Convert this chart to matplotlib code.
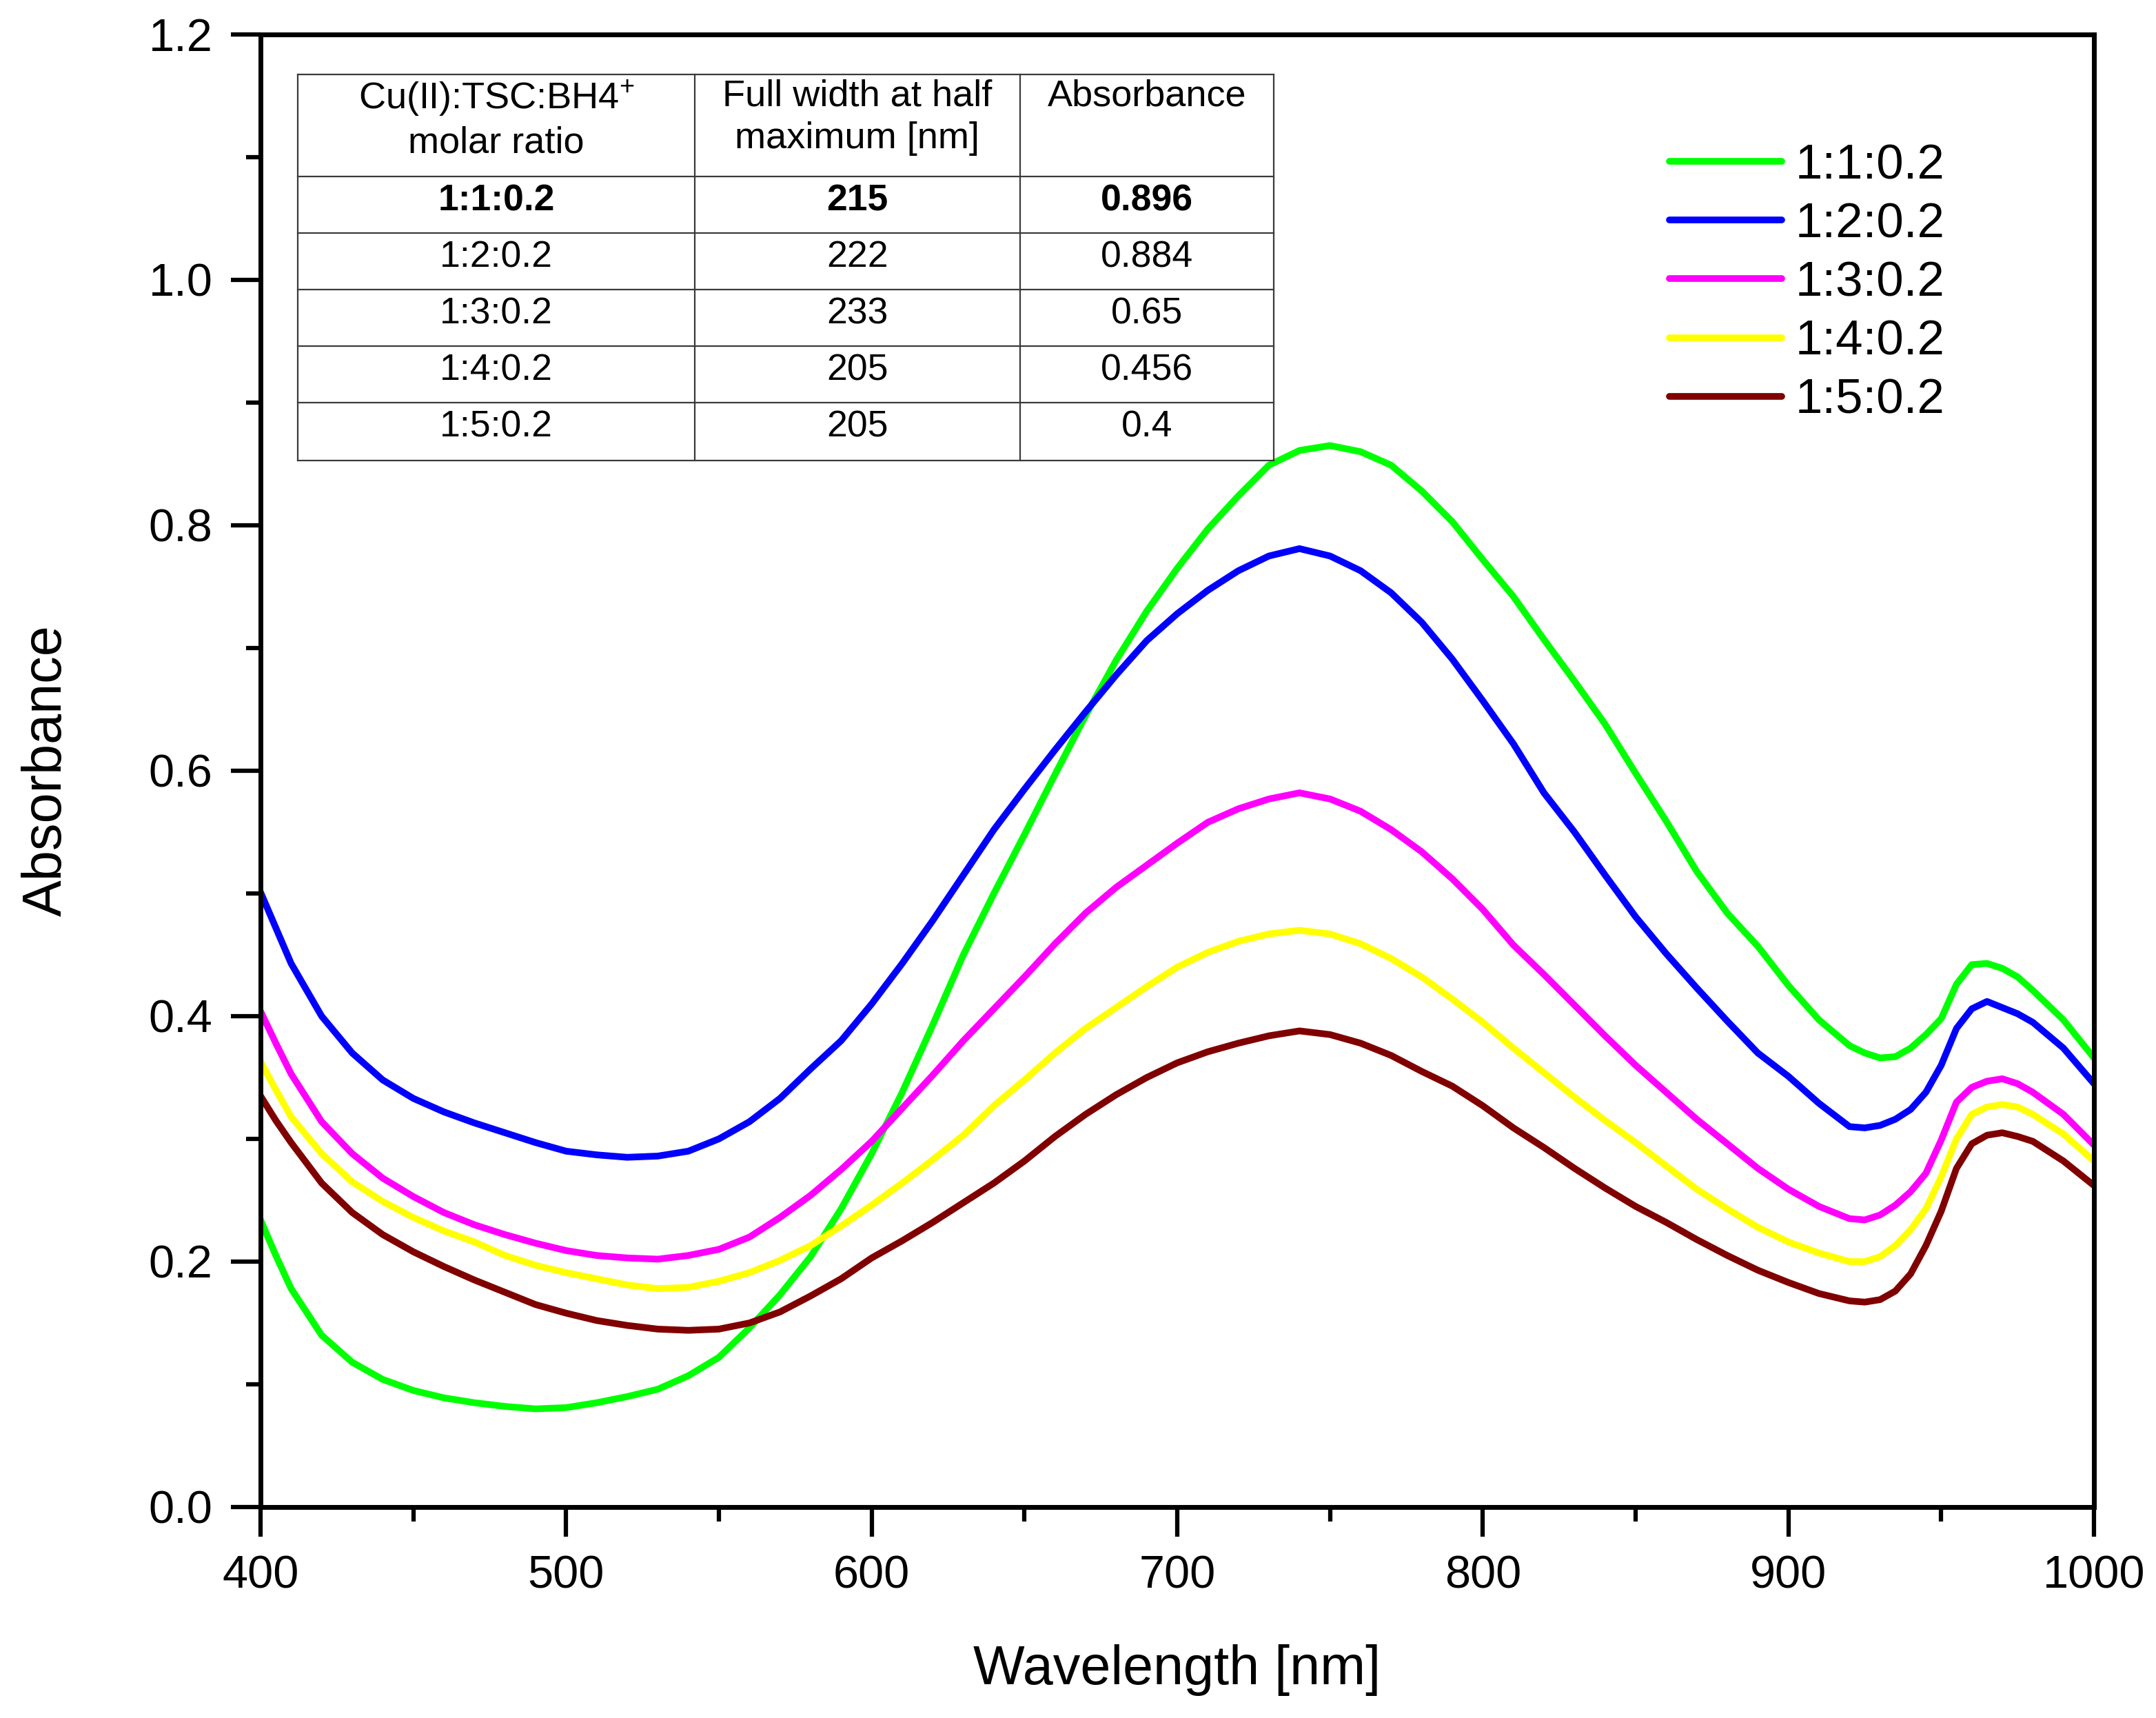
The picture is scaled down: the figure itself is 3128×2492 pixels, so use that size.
import matplotlib
matplotlib.use("Agg")
import matplotlib.pyplot as plt
from matplotlib.ticker import MultipleLocator

plt.rcParams['font.family'] = ['Liberation Sans', 'DejaVu Sans']
plt.rcParams['mathtext.fontset'] = 'custom'
plt.rcParams['mathtext.rm'] = 'Liberation Sans'
plt.rcParams['mathtext.it'] = 'Liberation Sans:italic'
plt.rcParams['mathtext.default'] = 'regular'

# ---------------- data ----------------
wavelength = [400, 405, 410, 420, 430, 440, 450, 460, 470, 480, 490, 500, 510, 520, 530,
              540, 550, 560, 570, 580, 590, 600, 610, 620, 630, 640, 650, 660, 670, 680,
              690, 700, 710, 720, 730, 740, 750, 760, 770, 780, 790, 800, 810, 820, 830,
              840, 850, 860, 870, 880, 890, 900, 910, 920, 925, 930, 935, 940, 945, 950,
              955, 960, 965, 970, 975, 980, 990, 1000]

abs_1_1 = [0.234, 0.205, 0.178, 0.140, 0.118, 0.104, 0.095, 0.089, 0.085, 0.082, 0.080, 0.081,
           0.085, 0.090, 0.096, 0.107, 0.122, 0.146, 0.173, 0.204, 0.243, 0.288, 0.338, 0.393,
           0.450, 0.500, 0.548, 0.597, 0.645, 0.690, 0.730, 0.765, 0.797, 0.824, 0.849, 0.861,
           0.865, 0.860, 0.849, 0.828, 0.803, 0.772, 0.742, 0.707, 0.673, 0.638, 0.598, 0.559,
           0.518, 0.484, 0.457, 0.425, 0.397, 0.376, 0.370, 0.366, 0.367, 0.374, 0.385, 0.398,
           0.426, 0.442, 0.443, 0.439, 0.432, 0.421, 0.397, 0.366]

abs_1_2 = [0.501, 0.472, 0.443, 0.400, 0.370, 0.348, 0.333, 0.322, 0.313, 0.305, 0.297, 0.290,
           0.287, 0.285, 0.286, 0.290, 0.300, 0.314, 0.333, 0.357, 0.380, 0.410, 0.443, 0.478,
           0.515, 0.552, 0.585, 0.617, 0.648, 0.678, 0.706, 0.728, 0.747, 0.763, 0.775, 0.781,
           0.775, 0.763, 0.745, 0.721, 0.691, 0.657, 0.622, 0.582, 0.550, 0.515, 0.481, 0.451,
           0.423, 0.396, 0.370, 0.351, 0.329, 0.310, 0.309, 0.311, 0.316, 0.324, 0.338, 0.360,
           0.390, 0.406, 0.412, 0.407, 0.402, 0.395, 0.374, 0.345]

abs_1_3 = [0.404, 0.378, 0.353, 0.314, 0.288, 0.268, 0.253, 0.240, 0.230, 0.222, 0.215, 0.209,
           0.205, 0.203, 0.202, 0.205, 0.210, 0.220, 0.236, 0.254, 0.275, 0.298, 0.325, 0.352,
           0.380, 0.406, 0.432, 0.459, 0.484, 0.505, 0.523, 0.541, 0.558, 0.569, 0.577, 0.582,
           0.577, 0.567, 0.552, 0.534, 0.512, 0.487, 0.458, 0.434, 0.409, 0.384, 0.360, 0.338,
           0.316, 0.296, 0.276, 0.259, 0.245, 0.235, 0.234, 0.238, 0.246, 0.257, 0.272, 0.299,
           0.330, 0.342, 0.347, 0.349, 0.345, 0.338, 0.320, 0.295]

abs_1_4 = [0.363, 0.340, 0.318, 0.288, 0.265, 0.249, 0.236, 0.225, 0.216, 0.205, 0.197, 0.191,
           0.186, 0.181, 0.178, 0.179, 0.184, 0.191, 0.201, 0.213, 0.229, 0.246, 0.264, 0.283,
           0.303, 0.327, 0.348, 0.370, 0.390, 0.407, 0.424, 0.440, 0.452, 0.461, 0.467, 0.470,
           0.467, 0.459, 0.447, 0.432, 0.414, 0.395, 0.374, 0.354, 0.334, 0.315, 0.297, 0.278,
           0.259, 0.243, 0.228, 0.216, 0.207, 0.200, 0.200, 0.204, 0.213, 0.226, 0.243, 0.269,
           0.300, 0.320, 0.326, 0.328, 0.326, 0.320, 0.304, 0.282]

abs_1_5 = [0.335, 0.315, 0.297, 0.264, 0.240, 0.222, 0.208, 0.196, 0.185, 0.175, 0.165, 0.158,
           0.152, 0.148, 0.145, 0.144, 0.145, 0.150, 0.159, 0.172, 0.186, 0.203, 0.217, 0.232,
           0.248, 0.264, 0.282, 0.302, 0.320, 0.336, 0.350, 0.362, 0.371, 0.378, 0.384, 0.388,
           0.385, 0.378, 0.368, 0.355, 0.343, 0.327, 0.309, 0.293, 0.276, 0.260, 0.245, 0.232,
           0.218, 0.205, 0.193, 0.183, 0.174, 0.168, 0.167, 0.169, 0.176, 0.190, 0.213, 0.241,
           0.276, 0.296, 0.303, 0.305, 0.302, 0.298, 0.282, 0.262]

series_labels = ["1:1:0.2", "1:2:0.2", "1:3:0.2", "1:4:0.2", "1:5:0.2"]
series_colors = ["#00ff00", "#0000ff", "#ff00ff", "#ffff00", "#800000"]

table_header = ["Cu(II):TSC:BH4$^{+}$\nmolar ratio", "Full width at half\nmaximum [nm]", "Absorbance\n "]
table_ratio = ["1:1:0.2", "1:2:0.2", "1:3:0.2", "1:4:0.2", "1:5:0.2"]
table_fwhm = ["215", "222", "233", "205", "205"]
table_abs = ["0.896", "0.884", "0.65", "0.456", "0.4"]

# ---------------- figure ----------------
fig = plt.figure(figsize=(31.28, 24.92), dpi=100)
ax = fig.add_axes([378 / 3128, 1 - 2186 / 2492, (3038 - 378) / 3128, (2186 - 50) / 2492])

all_series = [abs_1_1, abs_1_2, abs_1_3, abs_1_4, abs_1_5]
for vals, lab, col in zip(all_series, series_labels, series_colors):
    ax.plot(wavelength, vals, color=col, lw=7, label=lab,
            solid_capstyle='round', solid_joinstyle='round')

ax.set_xlim(400, 1000)
ax.set_ylim(0, 1.2)
ax.xaxis.set_major_locator(MultipleLocator(100))
ax.xaxis.set_minor_locator(MultipleLocator(50))
ax.yaxis.set_major_locator(MultipleLocator(0.2))
ax.yaxis.set_minor_locator(MultipleLocator(0.1))
ax.yaxis.set_major_formatter(matplotlib.ticker.FormatStrFormatter('%.1f'))

for sp in ax.spines.values():
    sp.set_linewidth(5)
ax.tick_params(which='major', direction='out', length=31, width=4.5, labelsize=48, pad=19)
ax.tick_params(which='minor', direction='out', length=15, width=4.5)
ax.tick_params(top=False, right=False, which='both')

ax.set_xlabel("Wavelength [nm]", fontsize=57)
ax.set_ylabel("Absorbance", fontsize=57)
ax.xaxis.set_label_coords(0.5, -0.093)
ax.yaxis.set_label_coords(-0.1025, 0.5)

leg = fig.legend(loc='upper left', bbox_to_anchor=(2422 / 3128, 1 - 208 / 2492),
                 frameon=False, fontsize=51, handlelength=2.3, handletextpad=0.28,
                 labelspacing=0.27, borderpad=0, borderaxespad=0)
for h in leg.get_lines():
    h.set_linewidth(7)

# ---------------- table (inset) ----------------
def ax_x(px):
    return (px - 378) / 2660

def ax_y(py):
    return (2186 - py) / 2136

col_edges = [432, 1008, 1480, 1848]
row_edges = [108, 256, 338, 420, 502, 584, 668]
tcolor = '#3a3a3a'
tlw = 1.6
for py in row_edges:
    ax.plot([ax_x(col_edges[0]), ax_x(col_edges[-1])], [ax_y(py), ax_y(py)],
            transform=ax.transAxes, color=tcolor, lw=tlw, clip_on=False, zorder=5)
for px in col_edges:
    ax.plot([ax_x(px), ax_x(px)], [ax_y(row_edges[0]), ax_y(row_edges[-1])],
            transform=ax.transAxes, color=tcolor, lw=tlw, clip_on=False, zorder=5)

col_centers = [(col_edges[i] + col_edges[i + 1]) / 2 for i in range(3)]
for i, htxt in enumerate(table_header):
    ax.text(ax_x(col_centers[i]), ax_y(114), htxt, transform=ax.transAxes,
            ha='center', va='top', fontsize=39, linespacing=1.3, zorder=6)

table_cols = [table_ratio, table_fwhm, table_abs]
for r in range(5):
    yc = (row_edges[r + 1] + row_edges[r + 2]) / 2 - 6
    for c in range(3):
        ax.text(ax_x(col_centers[c]), ax_y(yc), table_cols[c][r], transform=ax.transAxes,
                ha='center', va='center', fontsize=38.5,
                fontweight='bold' if r == 0 else 'normal', zorder=6)

fig.savefig("out.png", dpi=100, facecolor='white')
